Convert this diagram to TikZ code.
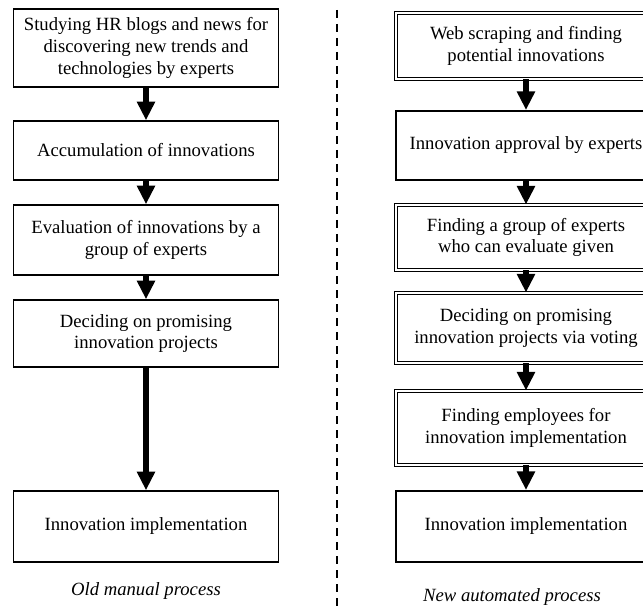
\documentclass[tikz,border=0pt]{standalone}
\usepackage{fontspec}
\setmainfont{Liberation Serif}
\usepackage{tikz}
\usetikzlibrary{arrows.meta}

\begin{document}
\begin{tikzpicture}[x=0.75pt, y=-0.75pt,
    oldbox/.style={draw, rectangle, line width=1.1pt, minimum width=198.75pt, align=center, font=\fontsize{14}{16.2}\selectfont},
    newbox/.style={oldbox, line width=1.5pt, minimum width=195pt},
    dblbox/.style={newbox, line width=0.7pt, double, double distance=1.2pt},
    captxt/.style={font=\fontsize{14}{16.2}\selectfont\itshape},
    n/.style={-{Triangle[width=13pt, length=14pt]}, line width=4pt},
    sep/.style={line width=1.6pt, dash pattern=on 6pt off 4.5pt}]
    \useasboundingbox (0,0) rectangle (643,606);
    \clip (0,0) rectangle (643,606);
    % old process
    \node[oldbox, minimum height=58.5pt] (o1) at (146,48) {Studying HR blogs and news for\\ discovering new trends and\\ technologies by experts};
    \node[oldbox, minimum height=44.25pt] (o2) at (146,150.5) {Accumulation of innovations};
    \node[oldbox, minimum height=52.5pt] (o3) at (146,240) {Evaluation of innovations by a\\ group of experts};
    \node[oldbox, minimum height=50.25pt] (o4) at (146,333.5) {Deciding on promising\\ innovation projects};
    \node[oldbox, minimum height=53.25pt] (o5) at (146,526.5) {Innovation implementation};
    \node[captxt] (oc) at (146,591) {Old manual process};
    % new process
    \node[dblbox, minimum height=49.5pt] (a1) at (526,46) {Web scraping and finding\\ potential innovations};
    \node[newbox, minimum height=51.75pt] (a2) at (526,145.5) {Innovation approval by experts};
    \node[dblbox, minimum height=48.75pt] (a3) at (526,237.5) {Finding a group of experts\\ who can evaluate given};
    \node[dblbox, minimum height=52.5pt] (a4) at (526,328) {Deciding on promising\\ innovation projects via voting};
    \node[dblbox, minimum height=55.5pt] (a5) at (526,428) {Finding employees for\\ innovation implementation};
    \node[newbox, minimum height=53.25pt] (a6) at (526,526.5) {Innovation implementation};
    \node[captxt] (ac) at (512,597) {New automated process};
    % divider
    \coordinate (top) at (337,10);
    \coordinate (bot) at (337,606);
    \draw[sep] (top) -- (bot);
    % edges
    \draw[n] (o1) -- (o2);
    \draw[n] (o2) -- (o3);
    \draw[n] (o3) -- (o4);
    \draw[n] (o4) -- (o5);
    \draw[n] (a1) -- (a2);
    \draw[n] (a2) -- (a3);
    \draw[n] (a3) -- (a4);
    \draw[n] (a4) -- (a5);
    \draw[n] (a5) -- (a6);
\end{tikzpicture}
\end{document}
